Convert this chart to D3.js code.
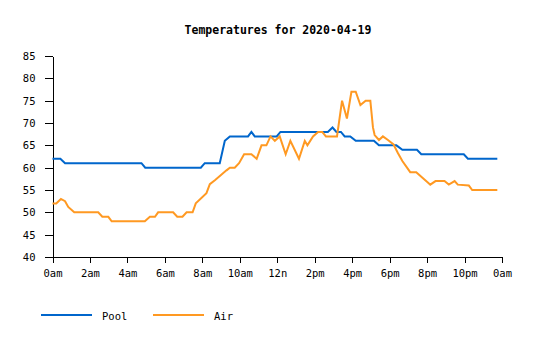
<!DOCTYPE html>
<html>
<head>
<meta charset="utf-8">
<script src="https://cdn.jsdelivr.net/npm/d3@7"></script>
<style>
  body { margin: 0; background: #fff; }
  svg { display: block; }
  text { font-family: "DejaVu Sans Mono", monospace; }
</style>
</head>
<body>
<svg id="chart" width="535" height="340"></svg>
<script>
const title = "Temperatures for 2020-04-19";
const xTickHours = [0, 2, 4, 6, 8, 10, 12, 14, 16, 18, 20, 22, 24];
const xTickLabels = ["0am","2am","4am","6am","8am","10am","12n","2pm","4pm","6pm","8pm","10pm","0am"];
const yTicks = [40, 45, 50, 55, 60, 65, 70, 75, 80, 85];
const seriesNames = ["Pool", "Air"];
const seriesColors = ["#0066cc", "#ff9922"];

const poolHours = [0, 0.42, 0.67, 4.75, 4.95, 7.92, 8.13, 8.93, 9.2, 9.47, 10.44, 10.62, 10.8, 11.97, 12.17, 14.7, 14.95, 15.16, 15.4, 15.6, 15.9, 16.19, 17.16, 17.43, 18.36, 18.68, 19.46, 19.69, 21.96, 22.18, 23.75];
const poolTemps = [62, 62, 61, 61, 60, 60, 61, 61, 66, 67, 67, 68, 67, 67, 68, 68, 69, 68, 68, 67, 67, 66, 66, 65, 65, 64, 64, 63, 63, 62, 62];

const airHours = [0, 0.2, 0.45, 0.67, 0.84, 1.16, 2.44, 2.66, 2.98, 3.16, 4.93, 5.2, 5.47, 5.64, 6.44, 6.66, 6.94, 7.16, 7.48, 7.65, 8.22, 8.4, 8.67, 9.29, 9.47, 9.73, 9.96, 10.23, 10.62, 10.9, 11.16, 11.42, 11.64, 11.87, 12.13, 12.45, 12.7, 13.16, 13.47, 13.61, 13.91, 14.18, 14.4, 14.6, 15.19, 15.46, 15.72, 15.96, 16.19, 16.44, 16.72, 16.97, 17.11, 17.2, 17.43, 17.64, 17.91, 18.21, 18.44, 18.68, 19.1, 19.42, 20.04, 20.17, 20.45, 20.93, 21.16, 21.47, 21.64, 22.23, 22.41, 23.75];
const airTemps = [52, 52, 53, 52.5, 51.2, 50, 50, 49, 49, 48, 48, 49, 49, 50, 50, 49, 49, 50, 50, 52, 54.3, 56.3, 57.2, 59.4, 60, 60, 61, 63, 63, 62, 65, 65, 67, 66, 67, 63, 66, 62, 66, 65, 67, 68, 68, 67, 67, 75, 71, 77, 77, 74, 75, 75, 69, 67.3, 66.2, 67, 66.2, 65.2, 63.3, 61.5, 59, 59, 56.7, 56.2, 57, 57, 56.2, 57, 56.2, 56, 55, 55];

const svg = d3.select("#chart");
const plotLeft = 52.5, plotRight = 502, plotTop = 56, plotBottom = 257;

const x = d3.scaleLinear().domain([0, 24]).range([plotLeft, plotRight]);
const y = d3.scaleLinear().domain([40, 85]).range([plotBottom, plotTop]);

svg.append("text")
  .attr("x", 278).attr("y", 34)
  .attr("text-anchor", "middle")
  .attr("font-size", "11.5px")
  .attr("font-weight", "bold")
  .text(title);

const xAxis = d3.axisBottom(x)
  .tickValues(xTickHours)
  .tickFormat((d, i) => xTickLabels[i])
  .tickSize(6).tickSizeOuter(0).tickPadding(7);
const gx = svg.append("g").attr("transform", `translate(0,${plotBottom})`).call(xAxis);

const yAxis = d3.axisLeft(y)
  .tickValues(yTicks)
  .tickSize(8).tickSizeOuter(0).tickPadding(9);
const gy = svg.append("g").attr("transform", `translate(${plotLeft},0)`).call(yAxis);

[gx, gy].forEach(g => {
  g.selectAll("text").attr("font-family", "DejaVu Sans Mono, monospace").attr("font-size", "10.5px").attr("fill", "#000");
  g.selectAll("line, path").attr("stroke", "#000").attr("shape-rendering", "crispEdges");
});

const seriesData = [
  poolHours.map((h, i) => [h, poolTemps[i]]),
  airHours.map((h, i) => [h, airTemps[i]])
];

const line = d3.line().x(d => x(d[0])).y(d => y(d[1]));

seriesData.forEach((data, i) => {
  svg.append("path")
    .datum(data)
    .attr("fill", "none")
    .attr("stroke", seriesColors[i])
    .attr("stroke-width", 2)
    .attr("d", line);
});

// legend
const legendX = [41, 153];
seriesNames.forEach((name, i) => {
  svg.append("line")
    .attr("x1", legendX[i]).attr("x2", legendX[i] + 51)
    .attr("y1", 315).attr("y2", 315)
    .attr("stroke", seriesColors[i])
    .attr("stroke-width", 2);
  svg.append("text")
    .attr("x", legendX[i] + 61).attr("y", 320)
    .attr("font-size", "10.5px")
    .text(name);
});
</script>
</body>
</html>
